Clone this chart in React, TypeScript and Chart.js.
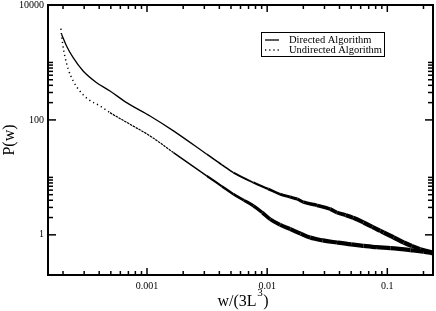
import { useEffect, useRef } from 'react';
import { Chart, registerables } from 'chart.js';

Chart.register(...registerables);

const directedX = [1.945e-4, 2.14e-4, 2.43e-4, 2.94e-4, 3.81e-4, 4.92e-4, 6.77e-4, 1.06e-3, 1.66e-3, 3.14e-3, 4.2e-3, 5.24e-3, 7.69e-3, 0.0102, 0.0128, 0.0155, 0.0178, 0.0201, 0.026, 0.0335, 0.0381, 0.045, 0.052, 0.0634, 0.075, 0.0874, 0.0932, 0.113, 0.137, 0.16, 0.188, 0.242];
const directedY = [3093, 1936, 1212, 711, 445, 319, 200, 117, 64.4, 25.3, 16.5, 12.1, 8.12, 6.3, 5.1, 4.55, 4.2, 3.7, 3.25, 2.8, 2.45, 2.2, 1.98, 1.64, 1.38, 1.17, 1.1, 0.9, 0.735, 0.64, 0.564, 0.492];

const undirectedX = [1.92e-4, 1.98e-4, 2.07e-4, 2.21e-4, 2.43e-4, 2.76e-4, 3.24e-4, 4.06e-4, 4.92e-4, 7.21e-4, 1.06e-3, 1.66e-3, 3.14e-3, 4.2e-3, 5.24e-3, 6.4e-3, 7.69e-3, 0.0091, 0.0106, 0.0128, 0.01556, 0.019, 0.0228, 0.029, 0.0381, 0.05, 0.0634, 0.082, 0.106, 0.1556, 0.2, 0.242];
const undirectedY = [3873, 2210, 1298, 762, 477, 319, 229, 175, 134, 84.1, 52.7, 27.0, 10.6, 7.0, 5.1, 4.0, 3.19, 2.45, 1.87, 1.5, 1.26, 1.05, 0.897, 0.8, 0.735, 0.68, 0.644, 0.61, 0.587, 0.542, 0.51, 0.473];

const seriesNames = ['Directed Algorithm', 'Undirected Algorithm'];
const xTickLabels = ['0.001', '0.01', '0.1'];
const yTickLabels = ['1', '100', '10000'];
const xTitleParts = ['w/(3L', '3', ')'];
const yTitle = 'P(w)';

const X_MIN = 0.00015;
const X_MAX = 0.24;
const Y_MIN = 0.2;
const Y_MAX = 10000;

const FONT = '"Liberation Serif", "Times New Roman", serif';

function labelFor(v: number, labels: string[]): string {
  const hit = labels.find((l) => Math.abs(Math.log10(parseFloat(l)) - Math.log10(v)) < 1e-6);
  return hit ?? '';
}

const framePlugin = {
  id: 'frame',
  afterDatasetsDraw(chart: any) {
    const { ctx, chartArea: a, scales } = chart;
    const xs = scales.x;
    const ys = scales.y;
    ctx.save();
    ctx.strokeStyle = '#000';
    ctx.lineWidth = 1.5;
    ctx.lineCap = 'butt';
    const seg = (x1: number, y1: number, x2: number, y2: number) => {
      ctx.beginPath();
      ctx.moveTo(x1, y1);
      ctx.lineTo(x2, y2);
      ctx.stroke();
    };
    for (let e = -5; e <= 0; e++) {
      for (let m = 1; m <= 9; m++) {
        const v = m * Math.pow(10, e);
        if (v < X_MIN * 0.999 || v > X_MAX * 1.001) continue;
        const px = xs.getPixelForValue(v);
        const len = m === 1 ? 7 : 4;
        seg(px, a.bottom, px, a.bottom - len);
        seg(px, a.top, px, a.top + len);
      }
    }
    for (let e = -2; e <= 4; e += 2) {
      for (let m = 1; m <= 10; m++) {
        const v = m * Math.pow(10, e);
        if (v < Y_MIN * 0.999 || v > Y_MAX * 1.001) continue;
        const py = ys.getPixelForValue(v);
        const len = m === 1 ? 8 : 5;
        seg(a.left, py, a.left + len, py);
        seg(a.right, py, a.right - len, py);
      }
    }
    ctx.lineWidth = 2;
    ctx.strokeRect(a.left, a.top, a.right - a.left, a.bottom - a.top);
    ctx.restore();
  },
};

const decorPlugin = {
  id: 'decor',
  afterDraw(chart: any) {
    const { ctx, chartArea: a } = chart;
    ctx.save();
    ctx.fillStyle = '#000';
    ctx.textBaseline = 'alphabetic';
    const big = `16px ${FONT}`;
    const small = `11px ${FONT}`;
    ctx.font = big;
    const w1 = ctx.measureText(xTitleParts[0]).width;
    const w3 = ctx.measureText(xTitleParts[2]).width;
    ctx.font = small;
    const w2 = ctx.measureText(xTitleParts[1]).width;
    const total = w1 + w2 + w3;
    let x = (a.left + a.right) / 2 - total / 2 + 2;
    const base = 306;
    ctx.font = big;
    ctx.textAlign = 'left';
    ctx.fillText(xTitleParts[0], x, base);
    x += w1 + 0.5;
    ctx.font = small;
    ctx.fillText(xTitleParts[1], x, base - 10);
    x += w2 + 0.5;
    ctx.font = big;
    ctx.fillText(xTitleParts[2], x, base);

    // legend
    const bx = 261, by = 32, bw = 123, bh = 24;
    ctx.strokeStyle = '#000';
    ctx.lineWidth = 1;
    ctx.strokeRect(bx + 0.5, by + 0.5, bw, bh);
    ctx.font = `10.5px ${FONT}`;
    ctx.textBaseline = 'middle';
    const rows = [by + 8, by + 18];
    ctx.lineWidth = 1.3;
    ctx.beginPath();
    ctx.moveTo(265, rows[0]);
    ctx.lineTo(279, rows[0]);
    ctx.stroke();
    ctx.setLineDash([1.2, 3]);
    ctx.beginPath();
    ctx.moveTo(265, rows[1]);
    ctx.lineTo(280, rows[1]);
    ctx.stroke();
    ctx.setLineDash([]);
    ctx.fillText(seriesNames[0], 289, rows[0]);
    ctx.fillText(seriesNames[1], 289, rows[1]);
    ctx.restore();
  },
};

function ramp(x: number, anchors: number[][]): number {
  const lx = Math.log10(x);
  if (lx <= anchors[0][0]) return anchors[0][1];
  for (let i = 1; i < anchors.length; i++) {
    if (lx <= anchors[i][0]) {
      const [x0, w0] = anchors[i - 1];
      const [x1, w1] = anchors[i];
      return w0 + ((w1 - w0) * (lx - x0)) / (x1 - x0);
    }
  }
  return anchors[anchors.length - 1][1];
}

const directedWidths = [[-2.6, 1.3], [-2.2, 1.8], [-1.9, 2.8], [-1.6, 3.6], [-1.2, 4.2], [-0.95, 4.4], [-0.62, 3.8]];
const undirectedWidths = [[-2.7, 1.2], [-2.4, 2.2], [-2.1, 3.3], [-1.9, 4.0], [-1.0, 4.4], [-0.62, 4.0]];

export default function App() {
  const ref = useRef<HTMLCanvasElement | null>(null);
  useEffect(() => {
    if (!ref.current) return;
    const chart = new Chart(ref.current, {
      type: 'line',
      data: {
        datasets: [
          {
            label: seriesNames[0],
            data: directedX.map((x, i) => ({ x, y: directedY[i] })),
            borderColor: '#000',
            borderWidth: 1.3,
            pointRadius: 0,
            cubicInterpolationMode: 'monotone',
            segment: {
              borderWidth: (c: any) => ramp(Math.sqrt(c.p0.parsed.x * c.p1.parsed.x), directedWidths),
            },
          } as any,
          {
            label: seriesNames[1],
            data: undirectedX.map((x, i) => ({ x, y: undirectedY[i] })),
            borderColor: '#000',
            borderWidth: 1.2,
            pointRadius: 0,
            cubicInterpolationMode: 'monotone',
            segment: {
              borderWidth: (c: any) => (c.p0.parsed.x < 4.3e-4 ? 1.5 : ramp(Math.sqrt(c.p0.parsed.x * c.p1.parsed.x), undirectedWidths)),
              borderDash: (c: any) => (c.p0.parsed.x < 4.3e-4 ? [1.2, 3.2] : c.p0.parsed.x < 0.0015 ? [2.5, 0.8] : []),
            },
          } as any,
        ],
      },
      options: {
        animation: false,
        responsive: false,
        events: [],
        layout: { padding: { top: 5, right: 3, left: 0, bottom: 0 } },
        plugins: { legend: { display: false }, tooltip: { enabled: false } },
        scales: {
          x: {
            type: 'logarithmic',
            min: X_MIN,
            max: X_MAX,
            grid: { display: false, drawTicks: false },
            border: { display: false },
            ticks: {
              autoSkip: false,
              maxRotation: 0,
              padding: 5,
              color: '#000',
              font: { family: FONT, size: 10 },
              callback: (v: any) => labelFor(Number(v), xTickLabels),
            },
            afterFit: (s: any) => {
              s.height = 36;
              s.paddingLeft = 0;
              s.paddingRight = 0;
            },
          },
          y: {
            type: 'logarithmic',
            min: Y_MIN,
            max: Y_MAX,
            grid: { display: false, drawTicks: false },
            border: { display: false },
            title: { display: true, text: yTitle, color: '#000', font: { family: FONT, size: 16 }, padding: 0 },
            ticks: {
              autoSkip: false,
              padding: 4,
              color: '#000',
              font: { family: FONT, size: 10 },
              callback: (v: any) => labelFor(Number(v), yTickLabels),
            },
            afterFit: (s: any) => {
              s.width = 48;
              s.paddingTop = 0;
              s.paddingBottom = 0;
            },
          },
        },
      } as any,
      plugins: [framePlugin, decorPlugin],
    });
    return () => chart.destroy();
  }, []);
  return (
    <div style={{ position: 'fixed', left: 0, top: 0, width: 436, height: 311, background: '#fff' }}>
      <canvas ref={ref} width={436} height={311} style={{ display: 'block' }} />
    </div>
  );
}
